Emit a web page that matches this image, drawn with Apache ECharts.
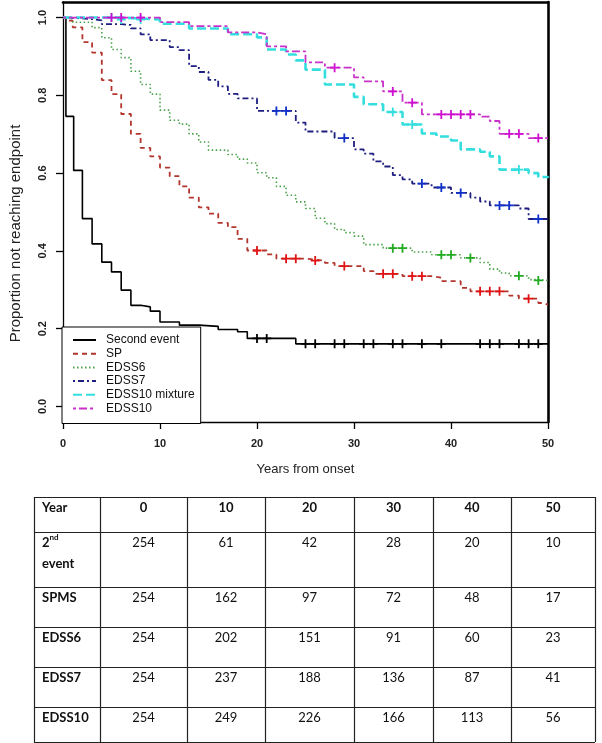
<!DOCTYPE html>
<html><head><meta charset="utf-8">
<script src="https://cdn.jsdelivr.net/npm/echarts@6/dist/echarts.min.js"></script>
<style>html,body{margin:0;padding:0;background:#fff;}#c{width:602px;height:743px;}</style>
</head><body><div id="c"></div>
<script>
// ---- Kaplan-Meier curves: step times (years) and proportion after each step ----
const secondT = [0, 0.3, 1.1, 2, 3, 4, 5, 6, 7, 8, 9, 10, 12, 14, 16, 18, 19, 24, 50];
const secondS = [1, 0.746, 0.607, 0.483, 0.418, 0.371, 0.346, 0.299, 0.260, 0.256, 0.245, 0.217, 0.209, 0.206, 0.198, 0.192, 0.175, 0.161, 0.161];
const secondCens = [20, 21, 25, 26, 28, 29, 31, 32, 34, 35, 37, 39, 43, 44, 45, 47, 48, 49];

const spT = [0, 0.5, 1, 2, 3, 4, 5, 6, 7, 8, 9, 10, 11, 12, 13, 14, 15, 16, 17, 18, 19, 21, 22, 25, 27, 28, 31, 32, 35, 38, 39, 41, 42, 46, 47, 49, 49.5, 50];
const spS = [1, 0.992, 0.975, 0.937, 0.910, 0.839, 0.803, 0.752, 0.701, 0.665, 0.643, 0.614, 0.592, 0.566, 0.537, 0.512, 0.496, 0.472, 0.461, 0.431, 0.401, 0.391, 0.380, 0.375, 0.369, 0.361, 0.348, 0.341, 0.335, 0.331, 0.322, 0.305, 0.296, 0.285, 0.277, 0.266, 0.262, 0.262];
const spCens = [20, 23, 24, 26, 29, 33, 34, 36, 37, 43, 44, 45, 48];

const e6T = [0, 0.5, 1, 3, 4, 5, 6, 7, 8, 9, 10, 11, 12, 13, 14, 15, 17, 18, 19, 20, 21, 22, 23, 24, 25, 26, 27, 28, 29, 30, 31, 33, 36, 38, 41, 43, 44, 45, 46, 48, 49, 50];
const e6S = [1, 0.996, 0.988, 0.974, 0.948, 0.918, 0.897, 0.862, 0.828, 0.803, 0.762, 0.736, 0.726, 0.701, 0.680, 0.659, 0.648, 0.636, 0.626, 0.601, 0.588, 0.566, 0.543, 0.526, 0.509, 0.484, 0.470, 0.455, 0.447, 0.438, 0.416, 0.407, 0.397, 0.390, 0.382, 0.370, 0.353, 0.343, 0.336, 0.326, 0.324, 0.324];
const e6Cens = [34, 35, 39, 40, 42, 47, 49];

const e7T = [0, 0.5, 3, 4, 6, 7, 8, 9, 11, 12, 13, 14, 15, 16, 17, 18, 20, 24, 25, 28, 30, 31, 32, 33, 34, 35, 36, 38, 40, 42, 43, 44, 47, 48, 50];
const e7S = [1, 0.996, 0.993, 0.983, 0.981, 0.972, 0.957, 0.942, 0.924, 0.916, 0.875, 0.860, 0.840, 0.823, 0.804, 0.792, 0.760, 0.730, 0.707, 0.690, 0.661, 0.650, 0.630, 0.617, 0.595, 0.584, 0.573, 0.563, 0.549, 0.537, 0.527, 0.517, 0.509, 0.482, 0.482];
const e7Cens = [22, 23, 29, 37, 39, 41, 45, 46, 49];

const mixT = [0, 6, 10, 13, 17, 20, 21, 23, 24, 25, 27, 30, 31, 33, 35, 37, 38.5, 40, 41, 43, 44, 45, 48, 49, 50];
const mixS = [1, 0.995, 0.984, 0.972, 0.957, 0.949, 0.918, 0.905, 0.890, 0.866, 0.828, 0.796, 0.777, 0.757, 0.725, 0.702, 0.694, 0.684, 0.661, 0.655, 0.643, 0.609, 0.600, 0.590, 0.588];
const mixCens = [5, 6, 8, 34, 36, 47];

const e10T = [0, 10, 13, 17, 20, 21, 23, 25, 27, 30, 31, 33, 35, 37, 43, 44, 45, 48, 50];
const e10S = [1, 0.988, 0.978, 0.962, 0.957, 0.926, 0.913, 0.885, 0.871, 0.846, 0.836, 0.810, 0.781, 0.751, 0.745, 0.734, 0.701, 0.690, 0.690];
const e10Cens = [5, 6, 8, 28, 34, 36, 39, 40, 41, 42, 46, 47, 49];

const seriesNames = ['Second event', 'SP', 'EDSS6', 'EDSS7', 'EDSS10 mixture', 'EDSS10'];
const yTicks = [0, 0.2, 0.4, 0.6, 0.8, 1.0];

// ---- numbers at risk table ----
const tableYears = [0, 10, 20, 30, 40, 50];
const tableRowLabels = ['2nd event', 'SPMS', 'EDSS6', 'EDSS7', 'EDSS10'];
const riskSecond = [254, 61, 42, 28, 20, 10];
const riskSPMS = [254, 162, 97, 72, 48, 17];
const riskEDSS6 = [254, 202, 151, 91, 60, 23];
const riskEDSS7 = [254, 237, 188, 136, 87, 41];
const riskEDSS10 = [254, 249, 226, 166, 113, 56];

// ---- helpers ----
function pairs(T, S) { return T.map((t, i) => [t, S[i]]); }
function valueAt(T, S, t) { let v = S[0]; for (let i = 0; i < T.length; i++) { if (T[i] <= t) v = S[i]; } return v; }
function cens(T, S, C) { return C.map(t => [t, valueAt(T, S, t)]); }

const styles = [
  { line: { color: '#000000', width: 1.6, type: 'solid' }, mark: '#000000' },
  { line: { color: '#b3362e', width: 1.8, type: [5, 4] }, mark: '#e01414' },
  { line: { color: '#4aa04a', width: 1.6, type: [1.5, 2.5] }, mark: '#22aa22' },
  { line: { color: '#1e1e80', width: 1.8, type: [2, 3, 6, 3] }, mark: '#1030c8' },
  { line: { color: '#35dede', width: 2.6, type: [9, 4] }, mark: '#35dede' },
  { line: { color: '#c832c8', width: 1.8, type: [3, 3, 8, 3] }, mark: '#d010d0' }
];
const curves = [
  [secondT, secondS, secondCens],
  [spT, spS, spCens],
  [e6T, e6S, e6Cens],
  [e7T, e7S, e7Cens],
  [mixT, mixS, mixCens],
  [e10T, e10S, e10Cens]
];
const plus = 'path://M4,0H6V4H10V6H6V10H4V6H0V4H4Z';

const series = [];
curves.forEach((c, i) => {
  series.push({
    name: seriesNames[i], type: 'line', step: 'end', symbol: 'none', showSymbol: false,
    data: pairs(c[0], c[1]), lineStyle: styles[i].line, itemStyle: { color: styles[i].line.color },
    z: 2 + i * 0.01
  });
});
curves.forEach((c, i) => {
  series.push({
    name: seriesNames[i] + ' censored', type: 'scatter', symbol: plus, symbolSize: 9,
    data: cens(c[0], c[1], c[2]), itemStyle: { color: styles[i].mark, opacity: 1 }, z: 3
  });
});

// ---- table graphics ----
const colX = [34, 100, 187, 265, 354, 433, 511, 595];
const rowY = [497, 532, 587, 627, 667, 707, 742];
const tableFont = 'Lato, "Open Sans", sans-serif';
const graphics = [];
rowY.forEach(y => graphics.push({ type: 'line', shape: { x1: colX[0], y1: y + 0.5, x2: colX[colX.length - 1], y2: y + 0.5 }, style: { stroke: '#222', lineWidth: 1.2 } }));
colX.forEach(x => graphics.push({ type: 'line', shape: { x1: x + 0.5, y1: rowY[0], x2: x + 0.5, y2: rowY[rowY.length - 1] }, style: { stroke: '#222', lineWidth: 1.2 } }));
function txt(s, x, y, bold, align, size) {
  graphics.push({ type: 'text', x: x, y: y, style: { text: String(s), fill: '#111', font: (bold ? 'bold ' : '') + (size || 13) + 'px ' + tableFont, align: align || 'center', verticalAlign: 'middle' } });
}
txt('Year', 42, rowY[0] + 10.5, true, 'left');
tableYears.forEach((yr, j) => txt(yr, (colX[j + 1] + colX[j + 2]) / 2, rowY[0] + 10.5, true));
const riskRows = [riskSecond, riskSPMS, riskEDSS6, riskEDSS7, riskEDSS10];
tableRowLabels.forEach((lab, r) => {
  const cy = rowY[r + 1] + 10.5;
  if (r === 0) {
    const parts = lab.split(' ');
    txt(parts[0].charAt(0), 42, cy, true, 'left');
    txt(parts[0].slice(1), 49.5, cy - 5, true, 'left', 8);
    txt(parts[1], 42, cy + 21, true, 'left');
  } else {
    txt(lab, 42, cy, true, 'left');
  }
  riskRows[r].forEach((v, j) => txt(v, (colX[j + 1] + colX[j + 2]) / 2, cy, false));
});

const chart = echarts.init(document.getElementById('c'), null, { renderer: 'canvas' });
chart.setOption({
  animation: false,
  backgroundColor: '#ffffff',
  textStyle: { fontFamily: '"Liberation Sans", Arial, sans-serif' },
  grid: { left: 62, top: 2, width: 486, height: 420, containLabel: false },
  legend: {
    data: seriesNames, orient: 'vertical', left: 62, top: 327,
    padding: [7, 6, 9, 10], itemWidth: 23, itemHeight: 12, itemGap: 1.7,
    backgroundColor: '#ffffff', borderColor: '#000000', borderWidth: 1, borderRadius: 0,
    itemStyle: { opacity: 0 },
    textStyle: { fontSize: 12, color: '#111', lineHeight: 12, padding: [0, 0, 0, 5] },
    selectedMode: false
  },
  xAxis: [
    {
      type: 'value', min: 0, max: 50, interval: 10, position: 'bottom',
      name: 'Years from onset', nameLocation: 'middle', nameGap: 41,
      nameTextStyle: { fontSize: 13, color: '#222' },
      axisLine: { show: true, onZero: false, lineStyle: { color: '#000', width: 1.3 } },
      axisTick: { show: true, length: 7, lineStyle: { color: '#000', width: 1.3 } },
      axisLabel: { fontSize: 11, fontWeight: 'bold', color: '#222', margin: 16 },
      splitLine: { show: false }
    },
    {
      type: 'value', min: 0, max: 50, position: 'top',
      axisLine: { show: true, onZero: false, lineStyle: { color: '#000', width: 2.6 } },
      axisTick: { show: false }, axisLabel: { show: false }, splitLine: { show: false }
    }
  ],
  yAxis: [
    {
      type: 'value', min: -0.04, max: 1.04, position: 'left',
      name: 'Proportion not reaching endpoint', nameLocation: 'middle', nameRotate: 90, nameGap: 40,
      nameTextStyle: { fontSize: 15, color: '#222', padding: [0, 43, 0, 0] },
      axisLine: { show: true, onZero: false, lineStyle: { color: '#000', width: 1.3 } },
      axisTick: { show: true, length: 7, customValues: yTicks, lineStyle: { color: '#000', width: 1.3 } },
      axisLabel: { customValues: yTicks, rotate: 90, fontSize: 11, fontWeight: 'bold', color: '#222', margin: 15, formatter: v => v.toFixed(1) },
      splitLine: { show: false }
    },
    {
      type: 'value', min: -0.04, max: 1.04, position: 'right',
      axisLine: { show: true, onZero: false, lineStyle: { color: '#000', width: 2.6 } },
      axisTick: { show: false }, axisLabel: { show: false }, splitLine: { show: false }
    }
  ],
  series: series,
  graphic: graphics
});
</script>
</body></html>
